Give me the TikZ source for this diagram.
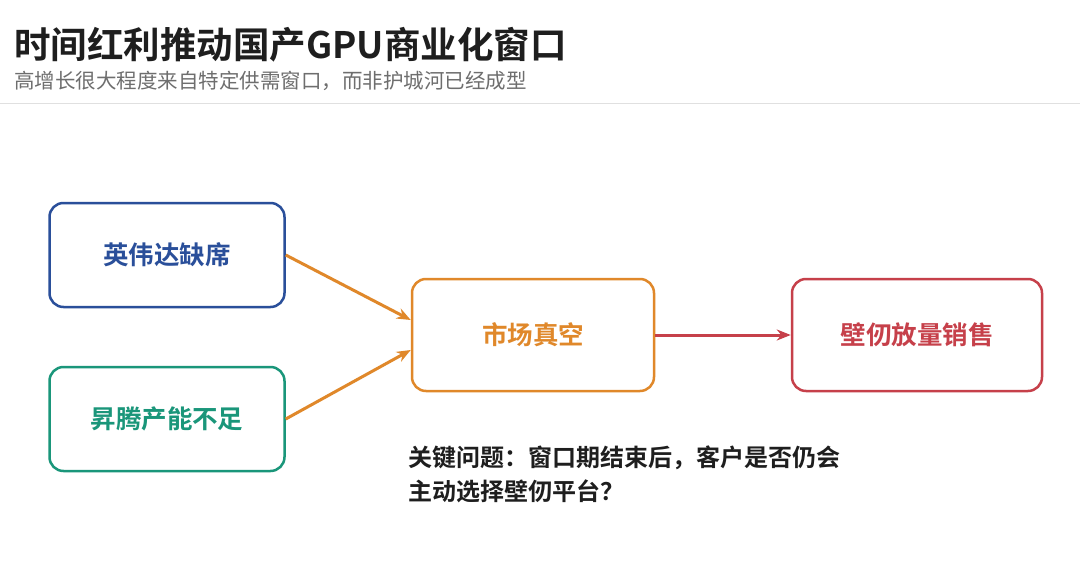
\documentclass[tikz,border=0pt]{standalone}
\usepackage{fontspec}
\setmainfont{Noto Sans CJK SC}[BoldFont={Noto Sans CJK SC Bold}]
\usepackage{tikz}
\usetikzlibrary{arrows.meta}
\definecolor{cblue}{RGB}{42,79,154}
\definecolor{cteal}{RGB}{26,150,122}
\definecolor{corange}{RGB}{224,136,42}
\definecolor{cred}{RGB}{198,64,74}
\definecolor{ctitle}{RGB}{30,30,30}
\definecolor{csub}{RGB}{110,110,110}
\tikzset{
  box/.style={draw=#1, text=#1, line width=2.5pt, rounded corners=14pt,
    font=\fontsize{25.5}{30}\selectfont\bfseries, align=center},
  link/.style={draw=#1, line width=3pt, -{Stealth[length=14pt,width=11pt]}}
}
\begin{document}
\begin{tikzpicture}[x=1pt,y=-1pt]
    \useasboundingbox[fill=white] (0,0) rectangle (1080,565);
    
    \node [anchor=west, text=ctitle, font=\fontsize{36.5}{40}\selectfont\bfseries, inner sep=0] (title) at (14,45) {时间红利推动国产GPU商业化窗口};
    \node [anchor=west, text=csub, font=\fontsize{20.5}{24}\selectfont, inner sep=0] (sub) at (14,81) {高增长很大程度来自特定供需窗口，而非护城河已经成型};
    \draw [draw=black!12, line width=1pt] (0,103) -- (1080,103);
    
    \node [box=cblue, minimum width=235pt, minimum height=104pt] (nv) at (167,255) {英伟达缺席};
    \node [box=cteal, minimum width=235pt, minimum height=104pt] (ascend) at (167,419) {昇腾产能不足};
    \node [box=corange, minimum width=242pt, minimum height=112pt] (gap) at (533,335) {市场真空};
    \node [box=cred, minimum width=250pt, minimum height=112pt] (sales) at (917,335) {壁仞放量销售};
    
    \draw [link=corange] (nv.east) -- ([yshift=15pt]gap.west);
    \draw [link=corange] (ascend.east) -- ([yshift=-15pt]gap.west);
    \draw [link=cred] (gap.east) -- (sales.west);
    
    \node [anchor=north west, text=ctitle, font=\fontsize{24}{34}\selectfont\bfseries, align=left, inner sep=0] (question) at (408,446) {关键问题：窗口期结束后，客户是否仍会\\主动选择壁仞平台？};
    
\end{tikzpicture}
\end{document}
